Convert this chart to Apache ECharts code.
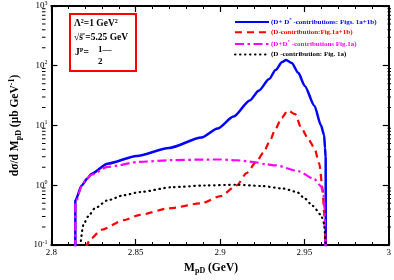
<!DOCTYPE html>
<html><head><meta charset="utf-8">
<script src="https://cdn.jsdelivr.net/npm/echarts@6/dist/echarts.min.js"></script>
<style>html,body{margin:0;padding:0;background:#fff}#c{width:394px;height:280px}</style>
</head><body><div id="c"></div>
<script>
const xTicks = [2.8, 2.85, 2.9, 2.95, 3];
const yTicks = [0.1, 1, 10, 100, 1000];

const blueMass = [2.8142, 2.8142, 2.818, 2.8213, 2.8237, 2.8333, 2.8506, 2.8697, 2.889, 2.8985, 2.908, 2.9176, 2.9229, 2.9291, 2.9329, 2.9368, 2.9391, 2.9425, 2.9464, 2.9502, 2.9559, 2.9598, 2.9617, 2.9622, 2.9626, 2.9627];
const blueValue = [0.01, 0.56, 0.99, 1.30, 1.55, 2.3, 3.1, 4.2, 6.3, 8.9, 14.1, 26.3, 38, 60, 85, 115, 125, 111, 76, 46, 21.5, 10.1, 6.9, 4.2, 2.9, 0.01];

const redMass = [2.8203, 2.8237, 2.8294, 2.8429, 2.8525, 2.8697, 2.8889, 2.9004, 2.91, 2.9157, 2.9214, 2.9257, 2.9291, 2.9329, 2.9365, 2.9402, 2.9445, 2.9483, 2.9525, 2.9559, 2.9588, 2.9607, 2.9617, 2.9626, 2.9627];
const redValue = [0.09, 0.13, 0.18, 0.26, 0.32, 0.41, 0.5, 0.66, 1.0, 1.6, 2.45, 3.5, 5.2, 8.8, 13.5, 17.8, 15.5, 8.9, 5.8, 4.2, 2.3, 0.93, 0.34, 0.11, 0.01];

const magentaMass = [2.8142, 2.8142, 2.818, 2.82, 2.8237, 2.8333, 2.8525, 2.8717, 2.89, 2.9, 2.91, 2.92, 2.927, 2.9329, 2.9464, 2.9559, 2.9598, 2.9613, 2.9619, 2.9624, 2.9627];
const magentaValue = [0.01, 0.5, 0.97, 1.19, 1.5, 2.03, 2.47, 2.63, 2.69, 2.7, 2.62, 2.45, 2.25, 2.15, 1.72, 1.27, 0.97, 0.68, 0.4, 0.15, 0.01];

const blackMass = [2.8168, 2.819, 2.8218, 2.8257, 2.8333, 2.8429, 2.8525, 2.8717, 2.891, 2.91, 2.925, 2.9375, 2.9456, 2.9502, 2.955, 2.9598, 2.9617, 2.9627, 2.9628];
const blackValue = [0.08, 0.22, 0.30, 0.41, 0.56, 0.68, 0.77, 0.93, 0.99, 1.02, 0.97, 0.88, 0.77, 0.6, 0.45, 0.32, 0.23, 0.1, 0.01];

const seriesNames = ['DDstar1a1b', 'D1a1b', 'DDstar1a', 'D1a'];
const legendLabels = [
  '{t|(D+ D}{s|*}{t| -contributions: Figs. 1a+1b)}',
  '{t|(D-contribution:Fig.1a+1b)}',
  '{t|(D+D}{s|*}{t| -contributions Fig.1a)}',
  '{t|(D -contribution: Fig. 1a)}'
];
const colors = ['#0000ff', '#ff0000', '#ff00ff', '#000000'];

const pairs = (m, v) => m.map((x, i) => [x, v[i]]);
const serif = 'Liberation Serif';
const supExp = v => {
  const e = Math.round(Math.log10(v));
  return '{b|10}{e|' + e + '}';
};

const chart = echarts.init(document.getElementById('c'), null, {renderer: 'canvas'});

const axisCommon = {
  axisLine: {lineStyle: {color: '#000', width: 2}},
  axisTick: {inside: true, length: 6, lineStyle: {color: '#000', width: 1.2}},
  splitLine: {show: false}
};

const lineSeries = (i, m, v, lineStyle) => ({
  name: seriesNames[i], type: 'line', data: pairs(m, v),
  symbol: 'none', showSymbol: false, clip: true,
  smooth: 0.25, smoothMonotone: 'x',
  lineStyle: Object.assign({color: colors[i]}, lineStyle),
  itemStyle: {color: colors[i]}
});

const option = {
  animation: false,
  backgroundColor: '#fff',
  grid: {left: 42, right: 3, top: 5, bottom: 31},
  legend: {
    orient: 'vertical', left: 229, top: 12,
    itemWidth: 34, itemHeight: 8, itemGap: 3.3,
    itemStyle: {opacity: 0},
    data: seriesNames.map((n, i) => ({name: n, textStyle: {color: colors[i]}})),
    formatter: name => legendLabels[seriesNames.indexOf(name)],
    textStyle: {
      fontFamily: serif, fontWeight: 'bold', fontSize: 7, padding: [0, 0, 0, -3],
      rich: {
        t: {fontFamily: serif, fontWeight: 'bold', fontSize: 7},
        s: {fontFamily: serif, fontWeight: 'bold', fontSize: 5, verticalAlign: 'top', padding: [0, 0, 5, 0]}
      }
    }
  },
  xAxis: [{
    type: 'value', min: 2.8, max: 3, interval: 0.05, position: 'bottom',
    ...axisCommon,
    minorTick: {show: true, splitNumber: 5, length: 3, lineStyle: {color: '#000', width: 1}},
    axisLabel: {
      fontFamily: serif, fontSize: 9, color: '#000', margin: 3,
      formatter: v => {
        const hit = xTicks.find(t => Math.abs(t - v) < 1e-9);
        return hit === undefined ? '' : String(hit);
      }
    },
    name: '{b|M}{sub|pD}{b| (GeV)}', nameLocation: 'middle', nameGap: 16,
    nameTextStyle: {
      padding: [0, 18, 0, 0],
      rich: {
        b: {fontFamily: serif, fontWeight: 'bold', fontSize: 11.5, color: '#000'},
        sub: {fontFamily: serif, fontWeight: 'bold', fontSize: 8, color: '#000', verticalAlign: 'bottom', padding: [6, 0, 0, 0]}
      }
    }
  }, {
    type: 'value', min: 2.8, max: 3, interval: 0.05, position: 'top',
    ...axisCommon,
    minorTick: {show: true, splitNumber: 5, length: 3, lineStyle: {color: '#000', width: 1}},
    axisLabel: {show: false}
  }],
  yAxis: [{
    type: 'log', logBase: 10, min: 0.1, max: 1000, position: 'left',
    ...axisCommon,
    axisLabel: {
      color: '#000', margin: 4,
      formatter: supExp,
      rich: {
        b: {fontFamily: serif, fontSize: 9, color: '#000'},
        e: {fontFamily: serif, fontSize: 6, color: '#000', verticalAlign: 'top', padding: [0, 0, 6, 0]}
      }
    },
    name: '{b|dσ/d M}{sub|pD}{b| (μb GeV}{sup|-1}{b|)}', nameLocation: 'middle', nameGap: 24,
    nameTextStyle: {
      rich: {
        b: {fontFamily: serif, fontWeight: 'bold', fontSize: 11.5, color: '#000'},
        sub: {fontFamily: serif, fontWeight: 'bold', fontSize: 8, color: '#000', padding: [6, 0, 0, 0]},
        sup: {fontFamily: serif, fontWeight: 'bold', fontSize: 8, color: '#000', padding: [0, 0, 7, 0]}
      }
    }
  }, {
    type: 'log', logBase: 10, min: 0.1, max: 1000, position: 'right',
    ...axisCommon,
    axisLabel: {show: false}
  }],
  series: [
    lineSeries(0, blueMass, blueValue, {width: 2.5}),
    lineSeries(1, redMass, redValue, {width: 2.2, type: [7, 5], dashOffset: 0}),
    lineSeries(2, magentaMass, magentaValue, {width: 2.2, type: [9, 3.5, 2.5, 3.5]}),
    lineSeries(3, blackMass, blackValue, {width: 2.2, type: [0.5, 4.5], cap: 'round'})
  ]
};
chart.setOption(option);

// log-spaced minor ticks on left and right y axes, positioned through the axis scale
const minor = [];
const gridRect = {l: 42, r: 394 - 3};
for (let n = -1; n <= 2; n++) {
  for (let k = 2; k <= 9; k++) {
    const py = chart.convertToPixel({yAxisIndex: 0}, k * Math.pow(10, n));
    minor.push({type: 'line', shape: {x1: gridRect.l, y1: py, x2: gridRect.l + 3.5, y2: py}, style: {stroke: '#000', lineWidth: 1}, silent: true});
    minor.push({type: 'line', shape: {x1: gridRect.r - 3.5, y1: py, x2: gridRect.r, y2: py}, style: {stroke: '#000', lineWidth: 1}, silent: true});
  }
}

const annot = [
  {type: 'rect', shape: {x: 70, y: 14, width: 66, height: 57}, style: {fill: 'none', stroke: '#ff0000', lineWidth: 2}, silent: true},
  {type: 'text', left: 74, top: 18, style: {
    text: '{b|Λ}{s|2}{b|=1 GeV}{s|2}',
    rich: {b: {fontFamily: serif, fontWeight: 'bold', fontSize: 9.5, fill: '#000'},
           s: {fontFamily: serif, fontWeight: 'bold', fontSize: 6, fill: '#000', padding: [0, 0, 6, 0]}}}},
  {type: 'text', left: 74, top: 33, style: {
    text: '√s =5.25 GeV', font: 'bold 9.5px "Liberation Serif"', fill: '#000'}},
  {type: 'line', shape: {x1: 80, y1: 34, x2: 85, y2: 34}, style: {stroke: '#000', lineWidth: 0.8}},
  {type: 'text', left: 75, top: 47, style: {
    text: '{b|J}{s|P}{b|=}',
    rich: {b: {fontFamily: serif, fontWeight: 'bold', fontSize: 9.5, fill: '#000'},
           s: {fontFamily: serif, fontWeight: 'bold', fontSize: 6, fill: '#000', padding: [0, 0, 6, 0]}}}},
  {type: 'text', left: 98, top: 45, style: {text: '1—', font: 'bold 9px "Liberation Serif"', fill: '#000'}},
  {type: 'text', left: 98, top: 57, style: {text: '2', font: 'bold 9px "Liberation Serif"', fill: '#000'}}
];

chart.setOption({graphic: minor.concat(annot)});
</script></body></html>
